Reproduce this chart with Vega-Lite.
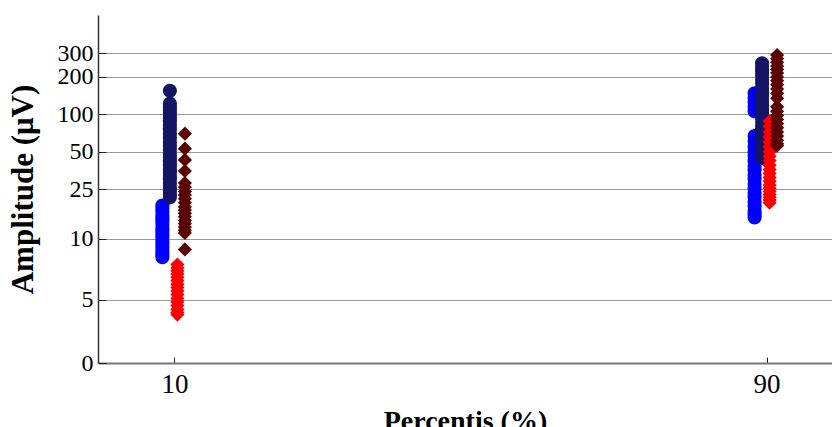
{
  "$schema": "https://vega.github.io/schema/vega-lite/v6.json",
  "width": 745,
  "height": 348,
  "autosize": "none",
  "padding": {"left": 98, "top": 15, "right": 0, "bottom": 64},
  "background": "white",
  "config": {"view": {"stroke": null}, "font": "Liberation Serif"},
  "data": {"values": [
    {"p": 10, "s": "A", "v": 18.5}, {"p": 10, "s": "A", "v": 17.5}, {"p": 10, "s": "A", "v": 16.5}, {"p": 10, "s": "A", "v": 15.5}, {"p": 10, "s": "A", "v": 14.6}, {"p": 10, "s": "A", "v": 13.8}, {"p": 10, "s": "A", "v": 13}, {"p": 10, "s": "A", "v": 12.2}, {"p": 10, "s": "A", "v": 11.5}, {"p": 10, "s": "A", "v": 10.8}, {"p": 10, "s": "A", "v": 10.2}, {"p": 10, "s": "A", "v": 9.6}, {"p": 10, "s": "A", "v": 9}, {"p": 10, "s": "A", "v": 8.5}, {"p": 10, "s": "A", "v": 8}, {"p": 10, "s": "A", "v": 7.5}, {"p": 10, "s": "A", "v": 7.1},
    {"p": 10, "s": "B", "v": 155}, {"p": 10, "s": "B", "v": 122}, {"p": 10, "s": "B", "v": 115}, {"p": 10, "s": "B", "v": 108}, {"p": 10, "s": "B", "v": 100}, {"p": 10, "s": "B", "v": 94}, {"p": 10, "s": "B", "v": 88}, {"p": 10, "s": "B", "v": 82}, {"p": 10, "s": "B", "v": 76}, {"p": 10, "s": "B", "v": 70}, {"p": 10, "s": "B", "v": 65}, {"p": 10, "s": "B", "v": 60}, {"p": 10, "s": "B", "v": 56}, {"p": 10, "s": "B", "v": 52}, {"p": 10, "s": "B", "v": 48}, {"p": 10, "s": "B", "v": 45}, {"p": 10, "s": "B", "v": 42}, {"p": 10, "s": "B", "v": 39}, {"p": 10, "s": "B", "v": 36}, {"p": 10, "s": "B", "v": 34}, {"p": 10, "s": "B", "v": 32}, {"p": 10, "s": "B", "v": 30}, {"p": 10, "s": "B", "v": 28}, {"p": 10, "s": "B", "v": 26}, {"p": 10, "s": "B", "v": 24.5}, {"p": 10, "s": "B", "v": 23}, {"p": 10, "s": "B", "v": 21.5},
    {"p": 10, "s": "C", "v": 6.2}, {"p": 10, "s": "C", "v": 5.8}, {"p": 10, "s": "C", "v": 5.5}, {"p": 10, "s": "C", "v": 5.2}, {"p": 10, "s": "C", "v": 4.9}, {"p": 10, "s": "C", "v": 4.6}, {"p": 10, "s": "C", "v": 4.3}, {"p": 10, "s": "C", "v": 4.05}, {"p": 10, "s": "C", "v": 3.8}, {"p": 10, "s": "C", "v": 3.55}, {"p": 10, "s": "C", "v": 3.3}, {"p": 10, "s": "C", "v": 3.1}, {"p": 10, "s": "C", "v": 2.9}, {"p": 10, "s": "C", "v": 2.7}, {"p": 10, "s": "C", "v": 2.55}, {"p": 10, "s": "C", "v": 2.45},
    {"p": 10, "s": "D", "v": 70}, {"p": 10, "s": "D", "v": 53}, {"p": 10, "s": "D", "v": 43}, {"p": 10, "s": "D", "v": 35}, {"p": 10, "s": "D", "v": 28}, {"p": 10, "s": "D", "v": 26}, {"p": 10, "s": "D", "v": 24}, {"p": 10, "s": "D", "v": 22.5}, {"p": 10, "s": "D", "v": 21}, {"p": 10, "s": "D", "v": 19.5}, {"p": 10, "s": "D", "v": 18}, {"p": 10, "s": "D", "v": 17}, {"p": 10, "s": "D", "v": 16}, {"p": 10, "s": "D", "v": 15}, {"p": 10, "s": "D", "v": 14}, {"p": 10, "s": "D", "v": 13.2}, {"p": 10, "s": "D", "v": 12.4}, {"p": 10, "s": "D", "v": 11.7}, {"p": 10, "s": "D", "v": 11.1}, {"p": 10, "s": "D", "v": 8.2},
    {"p": 90, "s": "A", "v": 148}, {"p": 90, "s": "A", "v": 136}, {"p": 90, "s": "A", "v": 125}, {"p": 90, "s": "A", "v": 115}, {"p": 90, "s": "A", "v": 106}, {"p": 90, "s": "A", "v": 67}, {"p": 90, "s": "A", "v": 61}, {"p": 90, "s": "A", "v": 55}, {"p": 90, "s": "A", "v": 50}, {"p": 90, "s": "A", "v": 46}, {"p": 90, "s": "A", "v": 42}, {"p": 90, "s": "A", "v": 38.5}, {"p": 90, "s": "A", "v": 35.5}, {"p": 90, "s": "A", "v": 32.5}, {"p": 90, "s": "A", "v": 30}, {"p": 90, "s": "A", "v": 27.5}, {"p": 90, "s": "A", "v": 25.3}, {"p": 90, "s": "A", "v": 23.3}, {"p": 90, "s": "A", "v": 21.5}, {"p": 90, "s": "A", "v": 19.8}, {"p": 90, "s": "A", "v": 18.2}, {"p": 90, "s": "A", "v": 16.8}, {"p": 90, "s": "A", "v": 15.7}, {"p": 90, "s": "A", "v": 14.8},
    {"p": 90, "s": "B", "v": 258}, {"p": 90, "s": "B", "v": 240}, {"p": 90, "s": "B", "v": 222}, {"p": 90, "s": "B", "v": 205}, {"p": 90, "s": "B", "v": 190}, {"p": 90, "s": "B", "v": 176}, {"p": 90, "s": "B", "v": 163}, {"p": 90, "s": "B", "v": 150}, {"p": 90, "s": "B", "v": 139}, {"p": 90, "s": "B", "v": 128}, {"p": 90, "s": "B", "v": 118}, {"p": 90, "s": "B", "v": 110}, {"p": 90, "s": "B", "v": 101}, {"p": 90, "s": "B", "v": 94}, {"p": 90, "s": "B", "v": 87}, {"p": 90, "s": "B", "v": 80}, {"p": 90, "s": "B", "v": 74}, {"p": 90, "s": "B", "v": 69}, {"p": 90, "s": "B", "v": 64}, {"p": 90, "s": "B", "v": 59}, {"p": 90, "s": "B", "v": 55}, {"p": 90, "s": "B", "v": 51}, {"p": 90, "s": "B", "v": 47.5}, {"p": 90, "s": "B", "v": 44.5},
    {"p": 90, "s": "C", "v": 88}, {"p": 90, "s": "C", "v": 80}, {"p": 90, "s": "C", "v": 72}, {"p": 90, "s": "C", "v": 66}, {"p": 90, "s": "C", "v": 60}, {"p": 90, "s": "C", "v": 55}, {"p": 90, "s": "C", "v": 50}, {"p": 90, "s": "C", "v": 46}, {"p": 90, "s": "C", "v": 42.5}, {"p": 90, "s": "C", "v": 39}, {"p": 90, "s": "C", "v": 36}, {"p": 90, "s": "C", "v": 33.5}, {"p": 90, "s": "C", "v": 31}, {"p": 90, "s": "C", "v": 29}, {"p": 90, "s": "C", "v": 27}, {"p": 90, "s": "C", "v": 25.5}, {"p": 90, "s": "C", "v": 24}, {"p": 90, "s": "C", "v": 22.7}, {"p": 90, "s": "C", "v": 21.5}, {"p": 90, "s": "C", "v": 20.5}, {"p": 90, "s": "C", "v": 19.5},
    {"p": 90, "s": "D", "v": 300}, {"p": 90, "s": "D", "v": 280}, {"p": 90, "s": "D", "v": 262}, {"p": 90, "s": "D", "v": 245}, {"p": 90, "s": "D", "v": 230}, {"p": 90, "s": "D", "v": 215}, {"p": 90, "s": "D", "v": 200}, {"p": 90, "s": "D", "v": 186}, {"p": 90, "s": "D", "v": 173}, {"p": 90, "s": "D", "v": 160}, {"p": 90, "s": "D", "v": 148}, {"p": 90, "s": "D", "v": 135}, {"p": 90, "s": "D", "v": 115}, {"p": 90, "s": "D", "v": 106}, {"p": 90, "s": "D", "v": 98}, {"p": 90, "s": "D", "v": 91}, {"p": 90, "s": "D", "v": 84}, {"p": 90, "s": "D", "v": 78}, {"p": 90, "s": "D", "v": 72}, {"p": 90, "s": "D", "v": 67}, {"p": 90, "s": "D", "v": 62}, {"p": 90, "s": "D", "v": 58}, {"p": 90, "s": "D", "v": 56}
  ]},
  "mark": {"type": "point", "filled": true, "opacity": 1, "strokeWidth": 0},
  "encoding": {
    "x": {
      "field": "p", "type": "ordinal",
      "scale": {"type": "point", "domain": [10, 90], "padding": 0.129},
      "axis": {
        "title": "Percentis (%)", "grid": false, "labelAngle": 0,
        "labelFont": "Liberation Serif", "labelFontSize": 27, "labelColor": "black", "labelPadding": 14,
        "tickSize": -6, "tickColor": "#222", "tickWidth": 1,
        "domainColor": "#777", "domainWidth": 2,
        "titleFont": "Liberation Serif", "titleFontSize": 28, "titleFontWeight": "bold", "titleColor": "black", "titlePadding": 10, "titleX": 367
      }
    },
    "xOffset": {"field": "s", "type": "nominal", "scale": {"type": "point", "domain": ["A", "B", "C", "D"], "range": [-12, 10.5], "padding": 0}},
    "y": {
      "field": "v", "type": "quantitative",
      "scale": {"type": "log", "domain": [1, 630], "nice": false},
      "axis": {
        "values": [1, 3.23, 10, 25, 50, 100, 200, 310],
        "labelExpr": "datum.value == 1 ? '0' : datum.value < 4 ? '5' : datum.value > 300 ? '300' : format(datum.value, 'd')",
        "labelOverlap": false,
        "title": "Amplitude (μV)", "grid": true, "gridColor": "#999", "gridWidth": 1,
        "labelFont": "Liberation Serif", "labelFontSize": 24, "labelColor": "black", "labelPadding": 13,
        "tickSize": -8, "tickColor": "#222", "tickWidth": 1,
        "domainColor": "#333", "domainWidth": 1.5,
        "titleFont": "Liberation Serif", "titleFontSize": 31, "titleFontWeight": "bold", "titleColor": "black", "titlePadding": 18
      }
    },
    "color": {"field": "s", "type": "nominal", "scale": {"domain": ["A", "B", "C", "D"], "range": ["#0000FF", "#151566", "#FF0000", "#5C0000"]}, "legend": null},
    "shape": {"field": "s", "type": "nominal", "scale": {"domain": ["A", "B", "C", "D"], "range": ["circle", "circle", "diamond", "diamond"]}, "legend": null},
    "size": {"field": "s", "type": "nominal", "scale": {"domain": ["A", "B", "C", "D"], "range": [200, 200, 150, 150]}, "legend": null}
  }
}
